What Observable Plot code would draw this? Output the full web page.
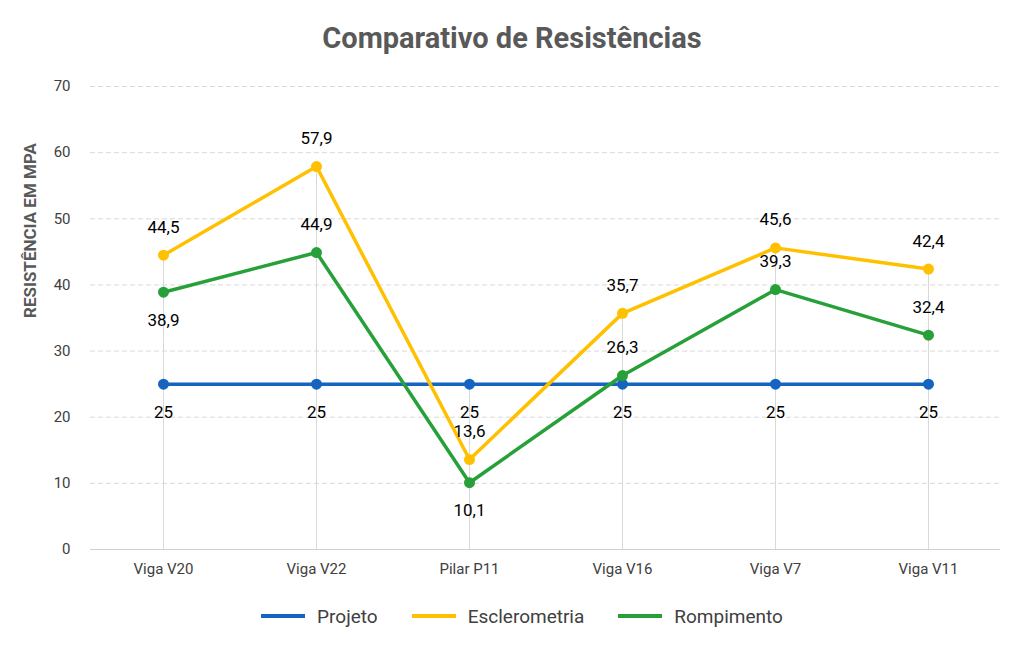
<!DOCTYPE html>
<html><head><meta charset="utf-8">
<script src="https://cdn.jsdelivr.net/npm/d3@7"></script>
<script src="https://cdn.jsdelivr.net/npm/@observablehq/plot@0.6"></script>
<style>
body{margin:0;background:#fff;font-family:Roboto,"Open Sans",sans-serif;width:1024px;}
#title{height:76px;line-height:76px;text-align:center;font-size:29px;font-weight:bold;color:#595959;}
#legend{height:60px;display:flex;justify-content:center;align-items:center;gap:34px;font-size:19px;color:#404040;margin-left:20px}
.it{display:flex;align-items:center;gap:12px}
.sw{width:44px;height:4px}
</style></head><body>
<div id="title">Comparativo de Resistências</div>
<div id="chart"></div>
<div id="legend"></div>
<script>
const categories=["Viga V20","Viga V22","Pilar P11","Viga V16","Viga V7","Viga V11"];
const projeto=[25,25,25,25,25,25];
const esclerometria=[44.5,57.9,13.6,35.7,45.6,42.4];
const rompimento=[38.9,44.9,10.1,26.3,39.3,32.4];
const rompLabelBelow=[true,false,true,false,false,false];
const seriesNames=["Projeto","Esclerometria","Rompimento"];
const colors=["#1565C0","#FFC000","#27A03A"];
const yTicks=[0,10,20,30,40,50,60,70];

const rows=[];
[projeto,esclerometria,rompimento].forEach((arr,s)=>arr.forEach((v,i)=>rows.push({cat:categories[i],v,s:seriesNames[s],i})));
const fmt=v=>String(v).replace(".",",");
const maxes=categories.map((c,i)=>({cat:c,v:Math.max(projeto[i],esclerometria[i],rompimento[i])}));
const color={domain:seriesNames,range:colors};
const romp=rows.filter(d=>d.s==="Rompimento");
const chart=Plot.plot({
  width:1024,height:510,marginTop:10,marginBottom:37,marginLeft:90,marginRight:24,
  style:{fontFamily:"Roboto, sans-serif",fontSize:"15px",color:"#404040"},
  x:{type:"point",domain:categories,padding:0.455,label:null,tickSize:0,tickPadding:14},
  y:{domain:[0,70],ticks:yTicks,label:null,tickSize:0,tickPadding:20},
  color,
  marks:[
    Plot.gridY(yTicks.slice(1),{stroke:"#d9d9d9",strokeOpacity:1,strokeDasharray:"5,3"}),
    Plot.ruleX(maxes,{x:"cat",y1:0,y2:"v",stroke:"#d9d9d9"}),
    Plot.ruleY([0],{stroke:"#d0d0d0"}),
    Plot.line(rows,{x:"cat",y:"v",z:"s",stroke:d=>d.s,strokeWidth:3.5}),
    Plot.dot(rows,{x:"cat",y:"v",fill:d=>d.s,r:5.5}),
    Plot.text(rows.filter(d=>d.s==="Projeto"),{x:"cat",y:"v",text:d=>fmt(d.v),dy:28,fontSize:17,fill:"#000"}),
    Plot.text(rows.filter(d=>d.s==="Esclerometria"),{x:"cat",y:"v",text:d=>fmt(d.v),dy:-28,fontSize:17,fill:"#000"}),
    Plot.text(romp.filter(d=>rompLabelBelow[d.i]),{x:"cat",y:"v",text:d=>fmt(d.v),dy:28,fontSize:17,fill:"#000"}),
    Plot.text(romp.filter(d=>!rompLabelBelow[d.i]),{x:"cat",y:"v",text:d=>fmt(d.v),dy:-28,fontSize:17,fill:"#000"}),
    Plot.text(["RESISTÊNCIA EM MPA"],{frameAnchor:"left",dx:-60,rotate:-90,fontSize:17,fontWeight:"bold",fill:"#595959"})
  ]
});
document.getElementById("chart").appendChild(chart);
document.getElementById("legend").innerHTML=seriesNames.map((n,i)=>`<div class="it"><div class="sw" style="background:${colors[i]}"></div>${n}</div>`).join("");
</script></body></html>
